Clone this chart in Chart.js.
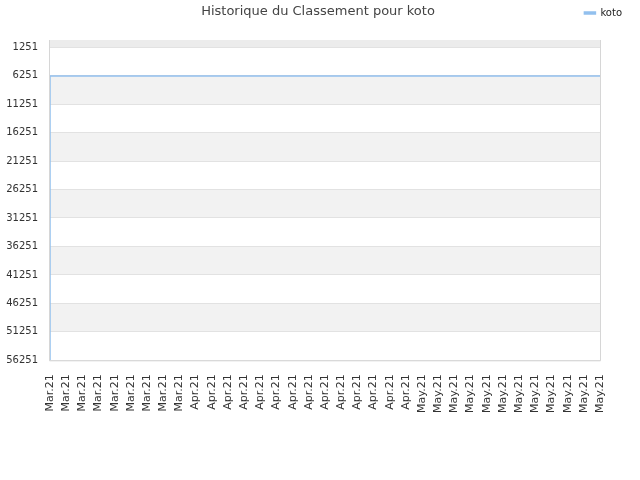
<!DOCTYPE html>
<html>
<head>
<meta charset="utf-8">
<script src="https://cdn.jsdelivr.net/npm/chart.js@4/dist/chart.umd.min.js"></script>
<style>
  html, body { margin: 0; padding: 0; background: #fff; }
  #wrap { width: 640px; height: 480px; }
</style>
</head>
<body>
<div id="wrap"><canvas id="chart" width="640" height="480"></canvas></div>
<script>
// ===== Data =====
const titleText = "Historique du Classement pour koto";
const seriesName = "koto";
const labels = [
  "Mar.21", "Mar.21", "Mar.21", "Mar.21", "Mar.21", "Mar.21", "Mar.21", "Mar.21", "Mar.21",
  "Apr.21", "Apr.21", "Apr.21", "Apr.21", "Apr.21", "Apr.21", "Apr.21", "Apr.21", "Apr.21",
  "Apr.21", "Apr.21", "Apr.21", "Apr.21", "Apr.21",
  "May.21", "May.21", "May.21", "May.21", "May.21", "May.21", "May.21", "May.21", "May.21",
  "May.21", "May.21", "May.21",
];
const rankValues = [
  56251, 6300, 6300, 6300, 6300, 6300, 6300, 6300, 6300,
  6300, 6300, 6300, 6300, 6300, 6300, 6300, 6300, 6300,
  6300, 6300, 6300, 6300, 6300,
  6300, 6300, 6300, 6300, 6300, 6300, 6300, 6300, 6300,
  6300, 6300, 6300,
];
const yTicks = [1251, 6251, 11251, 16251, 21251, 26251, 31251, 36251, 41251, 46251, 51251, 56251];
const yMin = 0;
const yMax = 56251;

const FONT = "'DejaVu Sans', Verdana, sans-serif";

// bandes alternées + bordure du cadre
const bandsPlugin = {
  id: "bands",
  beforeInit(chart) {
    // espace sous la légende
    const fit = chart.legend.fit;
    chart.legend.fit = function () {
      fit.call(this);
      this.height += 12;
    };
  },
  beforeDraw(chart) {
    const { ctx, chartArea: a, scales: { y } } = chart;
    ctx.save();
    // bande du haut (0 -> 1251)
    ctx.fillStyle = "#ececec";
    const yFirst = y.getPixelForValue(yTicks[0]);
    ctx.fillRect(a.left, a.top, a.right - a.left, yFirst - a.top);
    ctx.fillStyle = "#f2f2f2";
    for (let i = 1; i < yTicks.length - 1; i += 2) {
      const y0 = y.getPixelForValue(yTicks[i]);
      const y1 = y.getPixelForValue(yTicks[i + 1]);
      ctx.fillRect(a.left, y0, a.right - a.left, y1 - y0);
    }
    ctx.restore();
  },
  afterDatasetsDraw(chart) {
    const { ctx, chartArea: a } = chart;
    ctx.save();
    ctx.strokeStyle = "#d6d6d6";
    ctx.lineWidth = 1;
    ctx.beginPath();
    ctx.moveTo(a.left - 0.5, a.top);
    ctx.lineTo(a.left - 0.5, a.bottom + 0.5);
    ctx.lineTo(a.right + 0.5, a.bottom + 0.5);
    ctx.lineTo(a.right + 0.5, a.top);
    ctx.stroke();
    ctx.restore();
  },
};

const titlePlugin = {
  id: "topTitle",
  afterDraw(chart) {
    const { ctx } = chart;
    ctx.save();
    ctx.font = "13px " + FONT;
    ctx.fillStyle = "#444";
    ctx.textAlign = "center";
    ctx.textBaseline = "middle";
    ctx.fillText(titleText, 318, 12);
    ctx.restore();
  },
};

new Chart(document.getElementById("chart"), {
  type: "line",
  data: {
    labels,
    datasets: [{
      label: seriesName,
      data: rankValues,
      borderColor: "#92c0ee",
      backgroundColor: "#92c0ee",
      borderWidth: 1.5,
      pointRadius: 0,
      stepped: "after",
      fill: false,
    }],
  },
  options: {
    responsive: false,
    animation: false,
    devicePixelRatio: 1,
    layout: { padding: { left: 4, right: 10, top: 0, bottom: 53 } },
    plugins: {
      title: { display: false },
      tooltip: { enabled: false },
      legend: {
        position: "top",
        align: "end",
        labels: {
          boxWidth: 11,
          boxHeight: 2,
          color: "#222",
          font: { family: FONT, size: 10 },
          padding: 8,
        },
      },
    },
    scales: {
      x: {
        offset: false,
        grid: { display: false, drawTicks: false },
        border: { display: false },
        ticks: {
          autoSkip: false,
          maxRotation: 90,
          minRotation: 90,
          color: "#333",
          font: { family: FONT, size: 11 },
          padding: 14,
        },
      },
      y: {
        reverse: true,
        min: yMin,
        max: yMax,
        afterBuildTicks(scale) {
          scale.ticks = yTicks.map(v => ({ value: v }));
        },
        afterFit(scale) { scale.width = 46; },
        grid: { color: "#e2e2e2", drawTicks: false },
        border: { display: false },
        ticks: {
          color: "#333",
          font: { family: FONT, size: 10 },
          padding: 12,
          callback: v => String(v),
        },
      },
      yRight: {
        position: "right",
        display: true,
        grid: { display: false, drawTicks: false },
        border: { display: false },
        ticks: { display: false },
        afterFit(scale) { scale.width = 30; },
      },
    },
  },
  plugins: [bandsPlugin, titlePlugin],
});
</script>
</body>
</html>
